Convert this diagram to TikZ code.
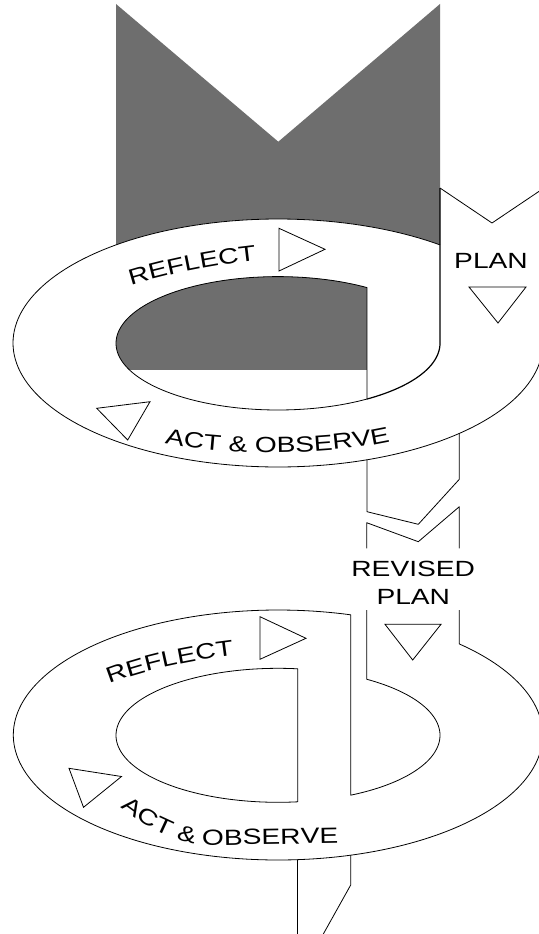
\documentclass[tikz,border=0pt]{standalone}
\usepackage{fontspec}
\newfontfamily\wide[FakeStretch=1.28]{Liberation Sans}
\usetikzlibrary{decorations.text}
\definecolor{bandgray}{RGB}{110,110,110}
\begin{document}
\begin{tikzpicture}[x=1pt,y=-1pt,
  ln/.style={draw=black, line width=0.8pt, line join=round},
  thick ln/.style={draw=black, line width=1.2pt, line join=round},
  tri/.style={draw=black, fill=white, line width=0.8pt, line join=miter},
  lbl/.style={font=\wide\fontsize{22}{26}\selectfont, inner sep=0pt, anchor=base},
  ringtext/.style={decorate, decoration={text along path, text align=center, text={|\wide\fontsize{22}{26}\selectfont|#1}}}
]
\useasboundingbox (0,0) rectangle (538,934);
\fill[white] (0,0) rectangle (538,934);

% ---------- upper loop ----------
% grey back side of the band (above the ring)
\fill[bandgray] (116,4) -- (278.3,141.7) -- (440,4) -- (440,260) -- (116,260) -- cycle;
% white ring
\fill[white] (278,343) ellipse [x radius=265, y radius=124];
% grey part seen through the hole
\begin{scope}
  \clip (278,343.3) ellipse [x radius=162, y radius=66.7];
  \fill[bandgray] (100,260) rectangle (367,370);
\end{scope}
% outer rim
\draw[ln] plot[domain=52.32:360, samples=160, variable=\t] ({278+265*cos(\t)},{343-124*sin(\t)});
% inner rim (left part) and descending strip edge
\draw[ln] plot[domain=56.67:303.33, samples=120, variable=\t] ({278+162*cos(\t)},{343.3-66.7*sin(\t)}) -- cycle;
% PLAN band
\draw[ln] (540,190.7) -- (492,223) -- (440,188);
\draw[thick ln] (440,188) -- plot[domain=0:56.67, samples=40, variable=\t] ({278+162*cos(\t)},{343.3+66.7*sin(\t)});
% strip below the upper loop
\draw[ln] (367,459.8) -- (367,511.7) -- (418.3,524.3) -- (459.3,479.3) -- (459.3,433.4);

% ---------- revised plan band ----------
\draw[ln] (366.7,548.3) -- (366.7,522.7) -- (418.3,541.7) -- (459.3,506.7) -- (459.3,548.3);

% ---------- lower loop ----------
\draw[ln] (366.7,610) -- (366.7,679.2)
  -- plot[domain=-56.8:63.3, samples=80, variable=\t] ({278+162*cos(\t)},{735.3+67*sin(\t)})
  -- (350.7,614.8)
  -- plot[domain=74.06:406.77, samples=200, variable=\t] ({278+264.7*cos(\t)},{735-125*sin(\t)})
  -- (459.3,610);
\draw[ln] plot[domain=83:277, samples=120, variable=\t] ({278+162*cos(\t)},{735.3-67*sin(\t)}) -- cycle;
% strip below the lower loop
\draw[ln] (297.7,859.8) -- (297.7,936);
\draw[ln] (350.7,855.2) -- (350.7,885) -- (322.2,936);

% ---------- triangles ----------
\draw[tri] (279,228.3) -- (279,271) -- (325,249.3) -- cycle;
\draw[tri] (469,287) -- (526,287) -- (498,323) -- cycle;
\draw[tri] (96.7,408.3) -- (150,401.7) -- (127.7,440) -- cycle;
\draw[tri] (385,624.3) -- (441,624.3) -- (412.7,660) -- cycle;
\draw[tri] (260,616.7) -- (260,659.3) -- (306,638.3) -- cycle;
\draw[tri] (69,768.3) -- (121.5,776.5) -- (83.5,807.3) -- cycle;

% ---------- labels ----------
\node[lbl] (plan) at (491,268.3) {PLAN};
\node[lbl] (revised) at (413.2,576.7) {REVISED};
\node[lbl] (revplan) at (413.3,604) {PLAN};

\path[ringtext={REFLECT}] (118,290) .. controls (160,275) and (222,263) .. (270,259);
\path[ringtext={ACT {\&} OBSERVE}] (155,441) .. controls (212,456) and (332,457) .. (400,439);
\path[ringtext={REFLECT}] (98,689) .. controls (136,671) and (196,659) .. (246,654);
\path[ringtext={ACT {\&} OBSERVE}] (110,799) .. controls (141,824) and (168,842) .. (210,845.5) -- (352,843);
\end{tikzpicture}
\end{document}
